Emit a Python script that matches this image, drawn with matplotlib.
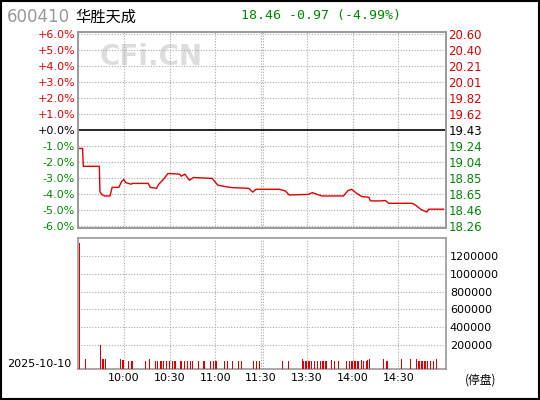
import matplotlib
matplotlib.use("Agg")
import matplotlib.pyplot as plt
import numpy as np

plt.rcParams['font.family'] = ['DejaVu Sans', 'Noto Sans CJK SC']

code = "600410"
name = "华胜天成"
quote = "18.46 -0.97 (-4.99%)"
date = "2025-10-10"
prev_close = 19.43

pct_ticks = [6, 5, 4, 3, 2, 1, 0, -1, -2, -3, -4, -5, -6]
price_labels = ["20.60", "20.40", "20.21", "20.01", "19.82", "19.62", "19.43",
                "19.24", "19.04", "18.85", "18.65", "18.46", "18.26"]
time_pos = [30, 60, 90, 120, 150, 180, 210]
time_labels = ["10:00", "10:30", "11:00", "11:30", "13:30", "14:00", "14:30"]

# intraday % change, vertices (minute index, pct)
line_min = [1, 3, 3.5, 14, 14.4, 15.5, 17.6, 21, 22.4, 26.8, 28.5, 30, 31.3, 34.6, 36, 46,
            47.4, 51.4, 53, 56, 59, 66.6, 67.7, 70, 73, 75.7, 88, 91.6, 97, 101.4, 112,
            114.5, 116.6, 131.9, 136, 138.4, 151, 153.6, 158, 160, 174, 177, 179.3, 183,
            186, 190.6, 191.7, 198, 201.5, 203.7, 219, 221, 225, 228.7, 229.8, 239.6]
line_pct = [-1.16, -1.16, -2.28, -2.28, -3.87, -4.04, -4.14, -4.14, -3.6, -3.6, -3.25, -3.1,
            -3.3, -3.4, -3.35, -3.35, -3.6, -3.66, -3.4, -3.1, -2.73, -2.77, -2.9, -2.77,
            -3.15, -2.98, -3.04, -3.46, -3.56, -3.62, -3.66, -3.9, -3.72, -3.72, -3.83,
            -4.08, -4.04, -3.93, -4.08, -4.14, -4.14, -3.8, -3.72, -4.0, -4.18, -4.22,
            -4.45, -4.45, -4.43, -4.6, -4.6, -4.7, -5.0, -5.15, -4.97, -4.97]

vol_min = [1, 4, 5, 15, 16, 17, 18, 21, 23, 28, 29, 30, 33, 35, 36, 42, 44, 47, 51,
           52, 54, 55, 56, 57, 58, 59, 60, 61, 62, 63, 64, 67, 68, 70, 72, 74, 75,
           79, 80, 82, 83, 87, 89, 90, 91, 95, 96, 98, 99, 101, 105, 107,
           114, 115, 116, 117, 118, 119, 133, 134, 137, 138,
           147, 148, 149, 150, 151, 152, 153, 154, 155, 156, 157, 158, 159, 160, 161, 162, 163,
           166, 168, 171, 173, 176, 177, 178, 179, 180, 181, 182, 183, 184, 186, 187, 189, 190, 191,
           200, 202, 203, 212, 218, 222, 223, 224, 225, 226, 227, 228, 229, 230, 231, 232, 233, 235]
vol_val = [1340000, 80000, 45000, 206000, 40000, 40000, 40000, 45000, 20000, 45000, 35000, 30000,
           20000, 20000, 25000, 25000, 20000, 45000, 20000,
           20000, 20000, 20000, 20000, 20000, 20000, 20000, 20000, 20000, 20000, 20000, 20000,
           20000, 20000, 20000, 20000, 20000, 20000,
           20000, 20000, 20000, 20000, 20000, 20000, 20000, 20000, 20000, 20000, 20000, 20000, 20000,
           20000, 20000,
           45000, 25000, 25000, 25000, 25000, 25000, 45000, 25000, 35000, 25000,
           45000, 25000, 25000, 25000, 25000, 25000, 25000, 25000, 25000, 25000, 25000, 25000, 25000,
           25000, 25000, 25000, 25000,
           35000, 25000, 25000, 25000, 25000, 25000, 25000, 25000, 25000, 25000, 25000, 25000, 25000,
           35000, 25000, 25000, 35000, 45000,
           45000, 25000, 25000, 45000, 40000, 45000, 25000, 25000, 25000, 25000, 25000, 25000,
           25000, 25000, 25000, 25000, 25000, 45000]
vol_ticks = [200000, 400000, 600000, 800000, 1000000, 1200000]

RED = "#e00000"
GREEN = "#008800"
GRID = dict(color="#aaaaaa", linestyle=(0, (1, 1.5)), linewidth=0.8)

fig = plt.figure(figsize=(5.4, 4.0), dpi=100)
fig.patch.set_facecolor("white")
fig.add_artist(plt.Rectangle((0.002, 0.002), 0.996, 0.996, transform=fig.transFigure,
                             fill=False, edgecolor="black", linewidth=1.5))

ax = fig.add_axes([0.1444, 0.43, 0.681, 0.49])
ax.set_xlim(0, 241)
ax.set_ylim(-6.15, 6.15)
for t in pct_ticks:
    if t == 0:
        ax.axhline(0, color="black", linewidth=1.2, zorder=2)
    else:
        ax.axhline(t, **GRID, zorder=1)
for t in time_pos:
    ax.axvline(t, **GRID, zorder=1)
ax.axvline(121, **GRID, zorder=1)
ax.plot(line_min, line_pct, color=RED, linewidth=1.0, zorder=3)
ax.set_xticks([])
ax.set_yticks(pct_ticks)
ax.set_yticklabels([f"{t:+.1f}%" for t in pct_ticks], fontsize=8)
for lbl, t in zip(ax.get_yticklabels(), pct_ticks):
    lbl.set_color(RED if t > 0 else ("black" if t == 0 else GREEN))
ax.tick_params(axis="y", length=0, pad=2)
ax2 = ax.twinx()
ax2.set_ylim(-6.15, 6.15)
ax2.set_yticks(pct_ticks)
ax2.set_yticklabels(price_labels, fontsize=8.5)
for lbl, t in zip(ax2.get_yticklabels(), pct_ticks):
    lbl.set_color(RED if t > 0 else ("black" if t == 0 else GREEN))
ax2.tick_params(axis="y", length=0, pad=2)
for a in (ax, ax2):
    for s in a.spines.values():
        s.set_color("#999999")
        s.set_linewidth(1.2)
ax.text(0.2, 0.87, "CFi.CN", transform=ax.transAxes, fontsize=20, fontweight="bold",
        color="#dddddd", ha="center", va="center", zorder=0)

fig.text(0.013, 0.958, code, fontsize=12, color="#999999", va="center")
fig.text(0.14, 0.958, name, fontsize=11, color="black", va="center",
         family=["Noto Sans CJK SC", "DejaVu Sans"])
fig.text(0.595, 0.962, quote, fontsize=9.5, color=GREEN, va="center", ha="center",
         family="DejaVu Sans Mono")

vb = -67000
axv = fig.add_axes([0.1444, 0.0775, 0.681, 0.3275])
axv.set_xlim(0, 241)
axv.set_ylim(vb, 1400000)
for t in vol_ticks:
    axv.axhline(t, **GRID, zorder=1)
for t in time_pos:
    axv.axvline(t, **GRID, zorder=1)
axv.axvline(121, **GRID, zorder=1)
axv.bar(vol_min, np.array(vol_val) - vb, bottom=vb, width=0.55, color=RED, zorder=3)
axv.yaxis.tick_right()
axv.set_yticks(vol_ticks)
axv.set_yticklabels([str(v) for v in vol_ticks], fontsize=8)
axv.set_xticks(time_pos)
axv.set_xticklabels(time_labels, fontsize=8)
axv.tick_params(length=0, pad=3)
for s in axv.spines.values():
    s.set_color("#999999")
    s.set_linewidth(1.2)
fig.text(0.013, 0.09, date, fontsize=8, va="center")
fig.text(0.86, 0.05, "(停盘)", fontsize=8.5, va="center",
         family=["Noto Sans CJK SC", "DejaVu Sans"])

fig.savefig("out.png", dpi=100)
